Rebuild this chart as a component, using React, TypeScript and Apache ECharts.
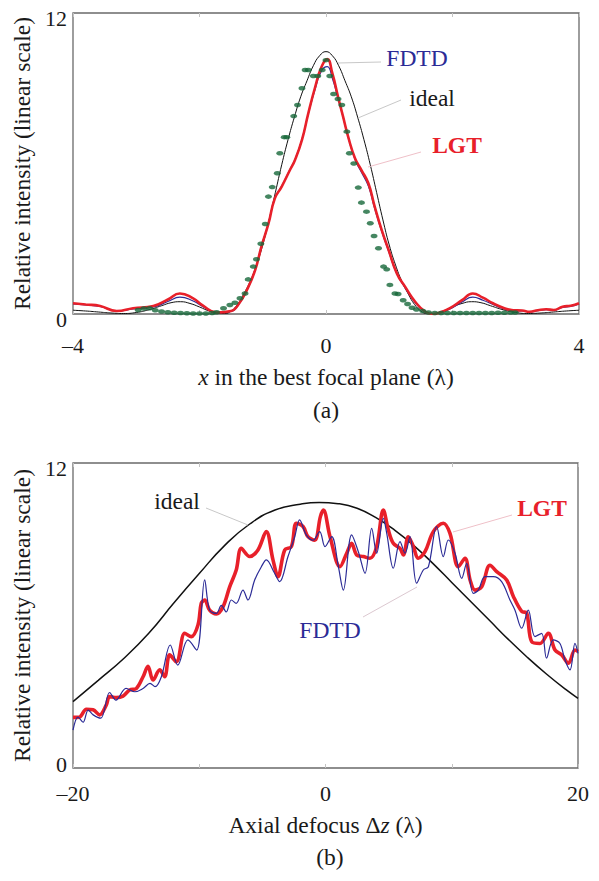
import React, { useEffect, useRef } from 'react';
import * as echarts from 'echarts';

const FONT = "'Liberation Serif', 'Times New Roman', serif";
const INK = '#1a1a1a';
const RED = '#e8202a';
const BLUE = '#2b2b96';
const GREEN = '#17683a';

// ---------- panel (a) ----------
const xTicksA = [-4, 0, 4];
const xTickLabelsA = ['–4', '0', '4'];
const yTicks = [0, 12];
const yTickLabels = ['0', '12'];

const idealA: [number, number][] = [
  [-4, 0.15], [-3.8, 0.12], [-3.6, 0.08], [-3.4, 0.04], [-3.2, 0.02], [-3.0, 0.06], [-2.8, 0.17],
  [-2.6, 0.33], [-2.45, 0.45], [-2.3, 0.49], [-2.15, 0.42], [-2.0, 0.28], [-1.85, 0.12], [-1.7, 0.02],
  [-1.6, 0.02], [-1.5, 0.12], [-1.4, 0.38], [-1.3, 0.8], [-1.2, 1.3], [-1.1, 1.95], [-1.0, 2.75],
  [-0.9, 3.75], [-0.8, 4.85], [-0.7, 5.95], [-0.6, 6.95], [-0.5, 7.85], [-0.4, 8.66], [-0.3, 9.3],
  [-0.2, 9.9], [-0.1, 10.3], [0, 10.46], [0.1, 10.3], [0.2, 9.9], [0.3, 9.3], [0.4, 8.66], [0.5, 7.85],
  [0.6, 6.95], [0.7, 5.95], [0.8, 4.85], [0.9, 3.75], [1.0, 2.75], [1.1, 1.95], [1.2, 1.3], [1.3, 0.8],
  [1.4, 0.38], [1.5, 0.12], [1.6, 0.02], [1.7, 0.02], [1.85, 0.12], [2.0, 0.28], [2.15, 0.42],
  [2.3, 0.49], [2.45, 0.45], [2.6, 0.33], [2.8, 0.17], [3.0, 0.06], [3.2, 0.02], [3.4, 0.04],
  [3.6, 0.08], [3.8, 0.12], [4, 0.15],
];

const lgtA: [number, number][] = [
  [-4, 0.43], [-3.8, 0.38], [-3.57, 0.32], [-3.31, 0.12], [-3.05, 0.23], [-2.73, 0.32], [-2.5, 0.58],
  [-2.31, 0.82], [-2.1, 0.62], [-1.95, 0.34], [-1.73, 0.06], [-1.5, 0.12], [-1.38, 0.4], [-1.25, 0.96],
  [-1.12, 1.75], [-1.02, 2.7], [-0.91, 3.6], [-0.81, 4.6], [-0.7, 5.08], [-0.57, 5.74], [-0.49, 6.14],
  [-0.38, 6.94], [-0.28, 8.0], [-0.17, 9.06], [-0.07, 9.86], [0.02, 10.16], [0.1, 9.6], [0.19, 8.66],
  [0.27, 7.87], [0.35, 7.07], [0.46, 6.2], [0.56, 5.74], [0.67, 5.21], [0.77, 4.28], [0.88, 3.35],
  [0.99, 2.55], [1.12, 1.62], [1.25, 1.09], [1.41, 0.49], [1.57, 0.09], [1.69, 0.0], [1.82, 0.08],
  [1.96, 0.23], [2.15, 0.55], [2.32, 0.82], [2.48, 0.65], [2.64, 0.43], [2.8, 0.25], [2.96, 0.15],
  [3.1, 0.14], [3.22, 0.09], [3.35, 0.15], [3.48, 0.19], [3.6, 0.16], [3.74, 0.29], [3.87, 0.33],
  [4, 0.43],
];

const fdtdA: [number, number][] = [
  [-4, 0.4], [-3.8, 0.36], [-3.57, 0.3], [-3.31, 0.12], [-3.05, 0.2], [-2.73, 0.28], [-2.5, 0.5],
  [-2.31, 0.67], [-2.1, 0.52], [-1.95, 0.3], [-1.73, 0.05], [-1.5, 0.1], [-1.38, 0.38], [-1.25, 0.94],
  [-1.12, 1.75], [-1.02, 2.72], [-0.91, 3.62], [-0.81, 4.62], [-0.7, 5.1], [-0.57, 5.76], [-0.49, 6.16],
  [-0.38, 6.96], [-0.28, 7.98], [-0.17, 8.98], [-0.07, 9.7], [0.02, 9.86], [0.1, 9.4], [0.19, 8.6],
  [0.27, 7.85], [0.35, 7.05], [0.46, 6.15], [0.56, 5.65], [0.67, 5.1], [0.77, 4.2], [0.88, 3.3],
  [0.99, 2.5], [1.12, 1.6], [1.25, 1.05], [1.41, 0.45], [1.57, 0.08], [1.69, 0.0], [1.82, 0.06],
  [1.96, 0.2], [2.15, 0.48], [2.32, 0.67], [2.48, 0.55], [2.64, 0.38], [2.8, 0.22], [2.96, 0.13],
  [3.1, 0.12], [3.22, 0.08], [3.35, 0.13], [3.48, 0.17], [3.6, 0.15], [3.74, 0.26], [3.87, 0.3],
  [4, 0.4],
];

const dotsA: [number, number][] = [
  [-2.97, 0.16], [-2.88, 0.22], [-2.79, 0.23], [-2.7, 0.15], [-2.6, 0.1], [-2.5, 0.07], [-2.4, 0.05],
  [-2.3, 0.04], [-2.2, 0.03], [-2.1, 0.02], [-2.0, 0.02], [-1.9, 0.02], [-1.8, 0.04], [-1.73, 0.07],
  [-1.62, 0.23], [-1.52, 0.36], [-1.44, 0.45], [-1.36, 0.63], [-1.28, 0.82], [-1.23, 1.38],
  [-1.15, 1.89], [-1.1, 2.18], [-1.03, 2.8], [-0.96, 3.59], [-0.91, 4.68], [-0.85, 5.06],
  [-0.77, 5.61], [-0.73, 6.41], [-0.66, 7.05], [-0.62, 7.05], [-0.51, 7.89], [-0.45, 8.33],
  [-0.38, 9.0], [-0.33, 9.73], [-0.28, 9.73], [-0.2, 9.49], [-0.13, 9.49], [-0.06, 9.73], [0, 10.12],
  [0.06, 9.49], [0.12, 8.77], [0.19, 8.57], [0.25, 8.33], [0.33, 7.27], [0.37, 6.41], [0.44, 6.0],
  [0.51, 5.04], [0.56, 4.44], [0.64, 4.08], [0.7, 3.62], [0.76, 3.11], [0.83, 2.62], [0.91, 1.89],
  [0.96, 1.78], [1.01, 1.16], [1.09, 0.82], [1.14, 0.8], [1.22, 0.55], [1.29, 0.4], [1.36, 0.25],
  [1.43, 0.18], [1.53, 0.12], [1.62, 0.06], [1.72, 0.04], [1.82, 0.04], [1.92, 0.04], [2.02, 0.04],
  [2.12, 0.04], [2.22, 0.04], [2.32, 0.04], [2.42, 0.04], [2.52, 0.04], [2.62, 0.04], [2.72, 0.05],
  [2.82, 0.05], [2.92, 0.06], [2.99, 0.06],
];

// ---------- panel (b) ----------
const xTicksB = [-20, 0, 20];
const xTickLabelsB = ['–20', '0', '20'];

const idealB: [number, number][] = [
  [-20, 2.61], [-18, 3.45], [-16, 4.3], [-14, 5.3], [-12, 6.5], [-10, 7.65], [-8, 8.75], [-6, 9.6],
  [-4, 10.15], [-2, 10.38], [-0.5, 10.45], [1, 10.4], [2.5, 10.22], [4, 9.85], [5.5, 9.35], [7, 8.75],
  [8.5, 8.05], [10, 7.3], [11.5, 6.55], [13, 5.8], [14.5, 5.05], [16, 4.35], [17.5, 3.7], [19, 3.1],
  [20, 2.74],
];

const lgtB: [number, number][] = [
  [-20, 1.99], [-19.5, 2.0], [-18.94, 2.31], [-18.41, 2.29], [-17.89, 2.09], [-17.36, 2.48],
  [-17.1, 2.81], [-16.57, 2.77], [-16.04, 2.83], [-15.51, 3.07], [-14.98, 3.13], [-14.45, 3.59],
  [-14.06, 4.0], [-13.66, 3.46], [-13.13, 3.86], [-12.74, 3.59], [-12.34, 4.45], [-11.81, 4.18],
  [-11.15, 5.3], [-10.63, 5.17], [-10.1, 5.63], [-9.84, 6.48], [-9.57, 6.61], [-9.18, 6.21],
  [-8.65, 6.06], [-8.12, 6.34], [-7.59, 7.13], [-7.07, 7.79], [-6.67, 8.64], [-6.01, 8.32],
  [-5.35, 8.58], [-4.69, 9.3], [-4.16, 8.19], [-3.76, 7.53], [-3.23, 8.58], [-2.7, 8.71],
  [-2.31, 9.63], [-1.78, 9.5], [-1.39, 9.1], [-0.86, 8.96], [-0.4, 9.9], [-0.17, 10.15], [0.36, 9.1],
  [1.15, 7.92], [1.68, 8.45], [2.07, 8.84], [2.47, 8.38], [3.0, 8.32], [3.52, 8.25], [4.05, 8.71],
  [4.58, 10.15], [4.98, 9.36], [5.37, 8.84], [5.9, 8.64], [6.17, 8.38], [6.56, 9.1], [6.96, 8.71],
  [7.35, 8.25], [7.88, 8.51], [8.54, 9.3], [9.33, 9.63], [9.86, 9.23], [10.52, 7.92], [11.05, 8.25],
  [11.45, 7.4], [11.84, 7.0], [12.37, 7.13], [13.03, 7.98], [13.56, 7.73], [14.35, 7.4], [14.88, 6.75],
  [15.54, 6.16], [15.93, 6.1], [16.33, 4.97], [16.99, 4.9], [17.65, 5.3], [18.18, 4.64], [18.71, 4.45],
  [19.24, 4.12], [19.76, 4.64], [20, 4.58],
];

const fdtdB: [number, number][] = [
  [-20, 1.49], [-19.6, 2.0], [-19.2, 1.8], [-18.8, 2.28], [-18.4, 2.09], [-17.8, 1.96], [-17.1, 2.97],
  [-16.6, 2.67], [-15.8, 3.13], [-15.1, 3.0], [-14.45, 3.13], [-13.9, 3.33], [-13.5, 3.2], [-13.0, 3.59],
  [-12.3, 4.84], [-11.7, 4.05], [-10.9, 5.04], [-10.2, 4.64], [-9.57, 7.4], [-9.18, 6.21], [-8.65, 6.08],
  [-8.25, 6.4], [-7.86, 6.14], [-7.46, 6.61], [-7.07, 6.48], [-6.54, 7.0], [-6.14, 6.61], [-5.61, 7.4],
  [-5.08, 7.92], [-4.69, 8.19], [-4.03, 7.66], [-3.63, 7.33], [-2.97, 8.32], [-2.44, 9.1], [-2.05, 9.76],
  [-1.52, 9.17], [-0.99, 8.96], [-0.46, 9.3], [-0.04, 8.71], [0.49, 9.1], [1.02, 7.92], [1.41, 7.0],
  [2.07, 9.17], [2.6, 8.51], [3.13, 7.66], [3.66, 9.43], [4.05, 8.45], [4.58, 9.82], [4.85, 9.23],
  [5.37, 7.86], [5.9, 8.91], [6.3, 8.45], [6.69, 9.1], [7.22, 7.27], [7.75, 7.79], [8.15, 7.92],
  [8.8, 9.5], [9.33, 8.32], [9.73, 8.97], [10.26, 8.45], [10.79, 7.46], [11.18, 8.05], [11.71, 6.87],
  [12.11, 7.0], [12.63, 7.53], [13.29, 7.53], [13.95, 7.33], [14.61, 6.61], [15.01, 6.21], [15.54, 5.5],
  [16.06, 6.21], [16.59, 5.17], [17.12, 5.3], [17.51, 4.32], [18.04, 5.04], [18.57, 4.9], [18.97, 4.25],
  [19.37, 3.86], [19.76, 4.9], [20, 4.51],
];

const tickText = { fontFamily: FONT, fontSize: 22, color: INK };
const titleText = { fontFamily: FONT, fontSize: 23.5, color: INK };

function tickFormatter(ticks: number[], labels: string[]) {
  return (v: number) => {
    const i = ticks.indexOf(v);
    return i >= 0 ? labels[i] : '';
  };
}

export default function App() {
  const ref = useRef<HTMLDivElement>(null);

  useEffect(() => {
    if (!ref.current) return;
    const chart = echarts.init(ref.current, undefined, { renderer: 'svg' });

    const xAxisPair = (grid: number, min: number, max: number, interval: number,
      ticks: number[], labels: string[], margin: number, name: string, nameGap: number) => [
      {
        type: 'value', gridIndex: grid, min, max, interval,
        axisLine: { show: false },
        axisTick: { show: true, inside: true, length: 4, lineStyle: { color: '#c4c4c4' } },
        splitLine: { show: false },
        axisLabel: { ...tickText, margin, formatter: tickFormatter(ticks, labels) },
        name, nameLocation: 'middle', nameGap,
        nameTextStyle: { ...titleText, rich: { i: { ...titleText, fontStyle: 'italic' }, n: { ...titleText } } },
      },
      {
        type: 'value', gridIndex: grid, min, max, interval, position: 'top',
        axisLine: { show: false },
        axisTick: { show: true, inside: true, length: 4, lineStyle: { color: '#c4c4c4' } },
        splitLine: { show: false },
        axisLabel: { show: false },
      },
    ];

    const yAxisFor = (grid: number, loPad: number[]) => ({
      type: 'value', gridIndex: grid, min: 0, max: 12, interval: 12,
      axisLine: { show: false },
      axisTick: { show: false },
      splitLine: { show: false },
      axisLabel: {
        ...tickText, margin: 6,
        formatter: (v: number) => {
          const i = yTicks.indexOf(v);
          if (i < 0) return '';
          return v === 0 ? `{lo|${yTickLabels[i]}}` : `{hi|${yTickLabels[i]}}`;
        },
        rich: {
          hi: { ...tickText, padding: [10, 0, 0, 0] },
          lo: { ...tickText, padding: loPad },
        },
      },
      name: 'Relative intensity (linear scale)', nameLocation: 'middle', nameGap: 33,
      nameTextStyle: { ...titleText },
    });

    const line = (name: string, data: [number, number][], idx: number, color: string, width: number, smooth: number | boolean) => ({
      type: 'line', name, data, xAxisIndex: idx, yAxisIndex: idx,
      showSymbol: false, symbol: 'none', smooth,
      lineStyle: { color, width }, itemStyle: { color },
    });

    const labelText = (text: string, x: number, y: number, color: string, bold = false) => ({
      type: 'text', x, y, z: 50,
      style: {
        text, fill: color, align: 'center', verticalAlign: 'middle',
        font: `${bold ? 'bold ' : ''}23.5px ${FONT}`,
      },
    });
    const leader = (x1: number, y1: number, x2: number, y2: number, color: string) => ({
      type: 'line', z: 40, shape: { x1, y1, x2, y2 }, style: { stroke: color, lineWidth: 1 },
    });

    const xa = xAxisPair(0, -4, 4, 2, xTicksA, xTickLabelsA, 20, '{i|x}{n| in the best focal plane (λ)}', 51);
    const xb = xAxisPair(1, -20, 20, 10, xTicksB, xTickLabelsB, 14, '{n|Axial defocus Δ}{i|z}{n| (λ)}', 45);

    chart.setOption({
      animation: false,
      backgroundColor: '#ffffff',
      grid: [
        { left: 73, top: 13, width: 506, height: 301, show: true, borderColor: '#6a6a6a', borderWidth: 1.3, backgroundColor: 'transparent' },
        { left: 73, top: 463, width: 505, height: 305, show: true, borderColor: '#6a6a6a', borderWidth: 1.3, backgroundColor: 'transparent' },
      ],
      xAxis: [xa[0], xb[0], xa[1], xb[1]],
      yAxis: [yAxisFor(0, [10, 0, 0, 0]), yAxisFor(1, [0, 0, 8, 0])],
      series: [
        line('ideal', idealA, 0, '#111111', 1, true),
        line('FDTD', fdtdA, 0, BLUE, 1.2, true),
        line('LGT', lgtA, 0, RED, 2.6, true),
        {
          type: 'scatter', name: 'FDTD samples', data: dotsA, xAxisIndex: 0, yAxisIndex: 0,
          symbol: 'circle', symbolSize: [7, 4.5], itemStyle: { color: GREEN }, z: 5,
        },
        line('ideal', idealB, 1, '#111111', 1.5, 0.5),
        line('LGT', lgtB, 1, RED, 3.6, 0.35),
        line('FDTD', fdtdB, 1, BLUE, 1.2, 0.35),
      ],
      graphic: [
        leader(381, 62, 338, 63, '#c8c8c8'),
        leader(401, 100, 358, 118, '#c8c8c8'),
        leader(421, 152, 368, 167, '#efc0c8'),
        labelText('FDTD', 417, 58, BLUE),
        labelText('ideal', 432, 98, INK),
        labelText('LGT', 457, 145, RED, true),
        labelText('(a)', 326, 410, INK),

        leader(206, 508, 248, 525, '#c8c8c8'),
        leader(512, 515, 453, 532, '#efc0c8'),
        leader(363, 617, 417, 587, '#dcc8d0'),
        labelText('ideal', 177, 501, INK),
        labelText('LGT', 542, 508, RED, true),
        labelText('FDTD', 330, 630, BLUE),
        labelText('(b)', 330, 857, INK),
      ],
    });

    return () => chart.dispose();
  }, []);

  return (
    <div
      ref={ref}
      style={{ position: 'absolute', left: 0, top: 0, width: 599, height: 881, background: '#fff' }}
    />
  );
}
